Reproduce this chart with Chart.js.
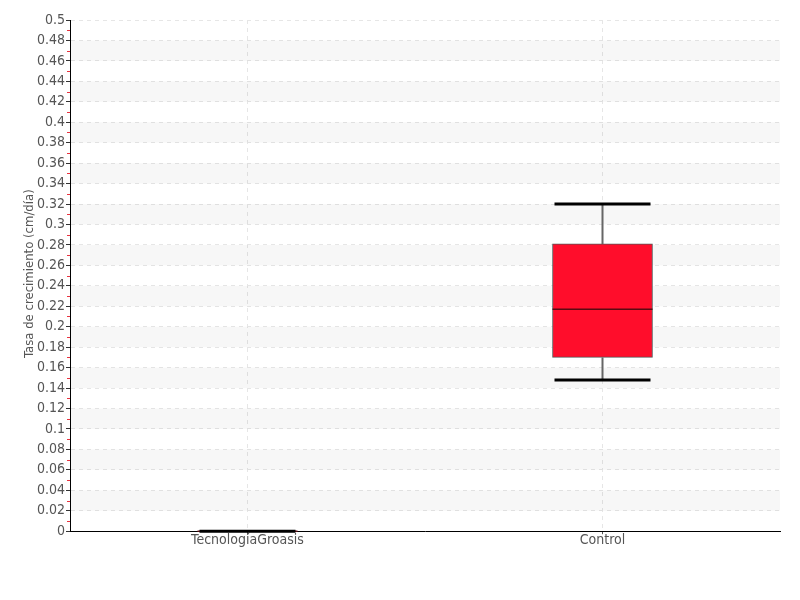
<!DOCTYPE html>
<html>
<head>
<meta charset="utf-8">
<script src="https://cdn.jsdelivr.net/npm/chart.js@4"></script>
<style>
  html, body { margin: 0; padding: 0; background: #fff; }
  #wrap { width: 800px; height: 600px; }
</style>
</head>
<body>
<div id="wrap"><canvas id="boxChart" width="800" height="600"></canvas></div>
<script>
// datos
const categories = ['TecnologíaGroasis', 'Control'];
const mins = [0, 0.148];
const q1s = [0, 0.17];
const medians = [0, 0.217];
const q3s = [0, 0.281];
const maxs = [0, 0.32];

const yTitle = 'Tasa de crecimiento (cm/día)';
const fontFamily = '"Liberation Sans Narrow", "DejaVu Sans Condensed", "Roboto", sans-serif';

// bandas alternas, ticks rojos y bigotes dibujados con las escalas
const boxExtras = {
  id: 'boxExtras',
  beforeDatasetsDraw(chart) {
    const ctx = chart.ctx;
    const y = chart.scales.y;
    const area = chart.chartArea;
    ctx.save();
    ctx.fillStyle = 'rgba(0,0,0,0.032)';
    for (let k = 1; k < 25; k += 2) {
      const top = y.getPixelForValue((k + 1) * 0.02);
      const bot = y.getPixelForValue(k * 0.02);
      ctx.fillRect(area.left, top, area.right - area.left, bot - top);
    }
    ctx.restore();
  },
  afterDatasetsDraw(chart) {
    const ctx = chart.ctx;
    const x = chart.scales.x;
    const y = chart.scales.y;
    const area = chart.chartArea;
    ctx.save();
    categories.forEach((c, i) => {
      const cx = x.getPixelForValue(i);
      const half = 48;
      // bigote vertical
      ctx.strokeStyle = '#666';
      ctx.lineWidth = 2;
      ctx.beginPath();
      ctx.moveTo(cx, y.getPixelForValue(maxs[i]));
      ctx.lineTo(cx, y.getPixelForValue(q3s[i]));
      ctx.moveTo(cx, y.getPixelForValue(q1s[i]));
      ctx.lineTo(cx, y.getPixelForValue(mins[i]));
      ctx.stroke();
      // mediana
      ctx.strokeStyle = '#5a0a12';
      ctx.lineWidth = 1.5;
      ctx.beginPath();
      ctx.moveTo(cx - 50, y.getPixelForValue(medians[i]));
      ctx.lineTo(cx + 50, y.getPixelForValue(medians[i]));
      ctx.stroke();
      // topes
      ctx.strokeStyle = '#000';
      ctx.lineWidth = 3;
      ctx.beginPath();
      ctx.moveTo(cx - half, y.getPixelForValue(maxs[i]));
      ctx.lineTo(cx + half, y.getPixelForValue(maxs[i]));
      ctx.moveTo(cx - half, y.getPixelForValue(mins[i]));
      ctx.lineTo(cx + half, y.getPixelForValue(mins[i]));
      ctx.stroke();
    });
    // ticks menores rojos
    ctx.strokeStyle = '#e8333f';
    ctx.lineWidth = 1;
    for (let k = 1; k < 50; k += 2) {
      const py = Math.round(y.getPixelForValue(k * 0.01)) + 0.5;
      ctx.beginPath();
      ctx.moveTo(area.left - 3, py);
      ctx.lineTo(area.left, py);
      ctx.stroke();
    }
    ctx.restore();
  }
};

new Chart(document.getElementById('boxChart').getContext('2d'), {
  type: 'bar',
  data: {
    labels: categories,
    datasets: [{
      label: 'caja',
      data: categories.map((c, i) => [q1s[i], q3s[i]]),
      backgroundColor: '#ff0d2b',
      borderColor: '#555',
      borderWidth: 1,
      borderSkipped: false,
      barThickness: 100
    }]
  },
  options: {
    responsive: false,
    animation: false,
    layout: { padding: { top: 20, right: 20, bottom: 53, left: 22 } },
    plugins: { legend: { display: false }, tooltip: { enabled: false } },
    scales: {
      x: {
        grid: {
          offset: false,
          color: '#e6e6e6',
          tickColor: '#555',
          tickLength: 3
        },
        border: { color: '#000', width: 1, dash: [4, 4] },
        ticks: { color: '#555', font: { family: fontFamily, size: 14 }, padding: -2 }
      },
      y: {
        min: 0,
        max: 0.5,
        afterFit(scale) { scale.width = 48; },
        grid: {
          color: '#e6e6e6',
          tickColor: '#333',
          tickLength: 4,
          tickBorderDash: []
        },
        border: { color: '#000', width: 1, dash: [4, 4] },
        ticks: {
          stepSize: 0.02,
          autoSkip: false,
          color: '#555',
          padding: 1,
          font: { family: fontFamily, size: 14 },
          callback: v => String(Math.round(v * 100) / 100)
        },
        title: {
          display: false,
          text: yTitle
        }
      }
    }
  },
  plugins: [boxExtras, {
    id: 'yTitle',
    afterDraw(chart) {
      const ctx = chart.ctx;
      const area = chart.chartArea;
      ctx.save();
      ctx.translate(30, (area.top + area.bottom) / 2 - 2);
      ctx.rotate(-Math.PI / 2);
      ctx.font = '13px ' + fontFamily;
      ctx.fillStyle = '#555';
      ctx.textAlign = 'center';
      ctx.textBaseline = 'middle';
      ctx.fillText(yTitle, 0, 0);
      ctx.restore();
    }
  }]
});
</script>
</body>
</html>
